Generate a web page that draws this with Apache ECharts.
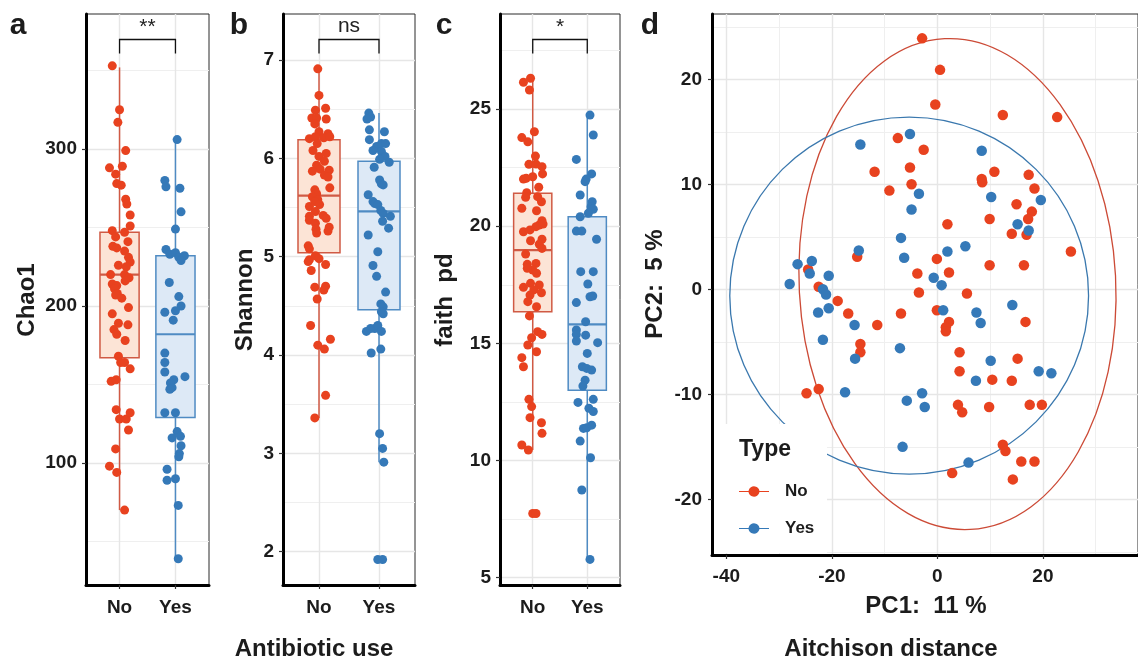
<!DOCTYPE html>
<html>
<head>
<meta charset="utf-8">
<script src="https://cdn.jsdelivr.net/npm/echarts@6/dist/echarts.min.js"></script>
<style>
  html, body { margin: 0; padding: 0; background: #ffffff; }
  #chart { width: 1138px; height: 660px; }
</style>
</head>
<body>
<div id="chart"></div>
<script>
// ---------- data ----------
const groups = ['No', 'Yes'];

// Chao1 richness per subject, with horizontal jitter (category units)
const chao1No = [353, 325, 317, 299, 288, 289, 284, 278, 277, 268, 265, 258, 251, 248, 244, 247, 241, 238, 237, 235, 231, 228, 226, 225, 220, 220, 218, 216, 214, 213, 211, 208, 207, 205, 199, 195, 189, 188, 185, 182, 178, 168, 164, 164, 160, 152, 153, 134, 128, 128, 132, 121, 109, 98, 94, 70];
const chao1NoJitter = [-0.13, 0, -0.03, 0.11, -0.18, 0.05, -0.07, -0.05, 0.03, 0.11, 0.13, 0.19, 0.19, -0.13, -0.07, 0.09, 0.15, -0.12, -0.05, 0.09, 0.16, 0.19, -0.02, 0.12, -0.16, 0.09, 0.17, 0.10, -0.13, -0.05, -0.09, -0.04, -0.07, 0.04, 0.16, -0.13, -0.02, 0.15, -0.10, -0.05, 0.10, -0.02, 0.02, 0.09, 0.19, -0.15, -0.06, -0.06, 0, 0.12, 0.19, 0.16, -0.07, -0.18, -0.05, 0.09];
const chao1Yes = [306, 280, 276, 275, 260, 249, 236, 233, 234, 231, 232, 229, 215, 206, 200, 197, 196, 191, 170, 164, 158, 155, 153, 151, 148, 147, 132, 132, 120, 116, 117, 111, 106, 104, 96, 89, 90, 73, 39];
const chao1YesJitter = [0.03, -0.19, -0.17, 0.08, 0.10, 0, -0.17, -0.10, 0, 0.06, 0.16, 0.10, -0.11, 0.06, 0.10, 0, -0.19, -0.04, -0.19, -0.19, -0.19, 0.17, -0.03, -0.09, -0.06, -0.10, -0.19, 0, 0.03, -0.06, 0.09, 0.10, 0.07, 0.06, -0.15, -0.15, 0, 0.05, 0.05];

// Shannon diversity
const shannonNo = [6.91, 6.64, 6.49, 6.51, 6.41, 6.41, 6.40, 6.35, 6.27, 6.25, 6.20, 6.22, 6.21, 6.22, 6.15, 6.08, 6.02, 6.05, 5.97, 5.93, 5.89, 5.87, 5.88, 5.83, 5.81, 5.70, 5.68, 5.64, 5.61, 5.58, 5.56, 5.51, 5.53, 5.46, 5.41, 5.42, 5.39, 5.37, 5.34, 5.30, 5.28, 5.26, 5.24, 5.11, 5.08, 5.01, 4.97, 4.98, 4.95, 4.92, 4.86, 4.69, 4.70, 4.66, 4.57, 4.30, 4.10, 4.06, 4.16, 3.59, 3.36];
const shannonNoJitter = [-0.02, 0, -0.06, 0.11, -0.12, -0.04, 0.12, -0.07, 0, 0.15, -0.16, -0.06, 0.08, 0.18, -0.03, -0.10, 0, 0.12, 0.09, -0.04, 0.02, -0.11, 0.17, 0.09, 0.15, 0.18, -0.07, -0.04, -0.11, -0.02, -0.07, -0.16, 0.01, -0.06, -0.16, 0.07, 0.12, -0.16, -0.06, 0.17, -0.05, 0.15, -0.04, -0.18, -0.16, -0.06, -0.16, 0, -0.18, 0.11, -0.13, -0.07, 0.11, 0.08, -0.03, -0.14, -0.02, 0.09, 0.19, 0.11, -0.07];
const shannonYes = [6.46, 6.42, 6.40, 6.29, 6.27, 6.19, 6.12, 6.15, 6.15, 6.08, 6.07, 6.02, 5.99, 5.96, 5.91, 5.78, 5.74, 5.73, 5.63, 5.56, 5.54, 5.53, 5.47, 5.44, 5.41, 5.36, 5.29, 5.22, 5.05, 4.91, 4.80, 4.64, 4.52, 4.49, 4.44, 4.42, 4.27, 4.24, 4.27, 4.30, 4.24, 4.02, 4.06, 3.20, 3.05, 2.91, 1.92, 1.92];
const shannonYesJitter = [-0.17, -0.14, -0.20, -0.16, 0.09, -0.16, -0.04, 0.04, 0.11, -0.10, 0.04, 0.10, 0.01, 0.17, -0.08, 0.01, 0.04, 0.07, -0.18, -0.10, -0.07, -0.02, 0.03, 0.07, 0.19, 0.06, 0.16, -0.18, -0.02, -0.10, -0.04, 0.11, 0.03, 0.07, 0.04, 0.07, -0.07, -0.21, -0.14, -0.02, 0.04, -0.13, 0.03, 0.01, 0.06, 0.08, -0.02, 0.06];

// Faith's phylogenetic diversity
const faithNo = [26.14, 26.31, 25.81, 24.03, 23.78, 23.60, 22.99, 22.64, 22.65, 22.54, 22.23, 22.01, 22.04, 22.11, 21.66, 21.43, 21.23, 21.26, 21.04, 20.76, 20.66, 20.23, 20.05, 19.98, 20.09, 19.76, 19.84, 19.44, 19.38, 19.23, 19.05, 18.81, 18.37, 18.41, 18.13, 18.20, 17.99, 17.39, 17.56, 17.49, 17.28, 17.16, 17.06, 16.78, 16.17, 16.56, 15.50, 15.38, 15.24, 14.93, 14.64, 14.39, 14.00, 12.61, 12.30, 11.83, 11.61, 11.16, 10.66, 10.45, 7.74, 7.74];
const faithNoJitter = [-0.17, -0.04, -0.06, 0.03, -0.20, -0.09, 0.05, -0.07, 0.06, 0.17, 0.18, -0.17, -0.12, 0, 0.11, -0.11, -0.13, 0.09, 0.16, -0.20, 0.07, 0.17, 0.12, 0.06, 0.19, -0.17, -0.05, 0.17, -0.04, 0.12, 0.17, -0.13, -0.10, 0.06, 0, -0.10, 0.07, -0.17, -0.04, 0.12, 0.02, 0.16, -0.05, -0.09, -0.06, 0.07, 0.09, 0.17, -0.02, -0.09, 0.07, -0.20, -0.17, -0.07, -0.02, -0.05, 0.16, 0.17, -0.20, -0.08, 0, 0.06];
const faithYes = [24.74, 23.89, 22.85, 22.23, 22.01, 21.90, 21.33, 21.04, 20.83, 20.72, 20.55, 20.40, 19.79, 19.79, 19.44, 18.06, 18.06, 17.53, 17.02, 16.99, 16.74, 15.92, 15.57, 15.38, 15.35, 15.10, 15.03, 14.57, 14.00, 13.93, 13.86, 13.43, 13.18, 12.48, 12.61, 12.23, 12.09, 11.37, 11.40, 11.51, 10.83, 10.12, 8.74, 5.78];
const faithYesJitter = [0.05, 0.11, -0.20, 0.08, -0.02, -0.04, -0.13, 0.09, 0.07, 0.11, 0.02, -0.13, -0.20, -0.10, 0.17, -0.12, 0.11, 0.01, 0.10, 0.05, -0.20, -0.03, -0.20, -0.20, -0.03, -0.20, 0.19, 0, -0.09, -0.01, 0.08, -0.04, -0.08, -0.17, 0.11, 0.03, 0.11, -0.07, -0.01, 0.08, -0.13, 0.06, -0.10, 0.05];

// Box summaries: [group position, lower whisker, Q1, median, Q3, upper whisker]
const chao1Box = [[1, 70, 167, 220, 247, 352], [2, 39, 129, 182, 232, 306]];
const shannonBox = [[1, 3.36, 5.04, 5.62, 6.19, 6.91], [2, 2.91, 4.46, 5.46, 5.97, 6.46]];
const faithBox = [[1, 10.45, 16.35, 18.98, 21.40, 26.38], [2, 5.78, 13.00, 15.81, 20.40, 24.74]];

// Wilcoxon test labels
const significance = ['**', 'ns', '*'];

// PCA on Aitchison distance: [PC1, PC2]
const pcaNo = [[-2.9, 23.9], [0.5, 20.9], [-0.4, 17.6], [12.4, 16.6], [22.7, 16.4], [-7.5, 14.4], [-2.6, 13.3], [-5.2, 11.6], [-11.9, 11.2], [10.8, 11.2], [17.3, 10.9], [8.4, 10.5], [8.5, 10.2], [-4.9, 10.0], [-9.1, 9.4], [18.4, 9.6], [15.0, 8.1], [17.9, 7.4], [17.2, 6.7], [9.9, 6.7], [1.9, 6.2], [14.1, 5.3], [16.9, 5.2], [25.3, 3.6], [-0.1, 2.9], [9.9, 2.3], [16.4, 2.3], [-3.8, 1.5], [2.2, 1.6], [-3.5, -0.3], [5.6, -0.4], [-6.9, -2.3], [-0.1, -2.0], [2.2, -3.1], [16.7, -3.1], [1.6, -3.6], [1.6, -4.0], [-15.2, 3.1], [-24.5, 1.9], [-22.5, 0.25], [-18.9, -1.1], [-16.9, -2.3], [-11.4, -3.4], [-14.6, -5.2], [-14.6, -6.0], [-24.8, -9.9], [-22.5, -9.5], [4.2, -6.0], [15.2, -6.6], [4.2, -7.8], [10.4, -8.6], [14.1, -8.7], [3.9, -11.0], [4.7, -11.7], [9.8, -11.2], [17.5, -11.0], [19.8, -11.0], [12.4, -14.8], [12.9, -15.4], [15.9, -16.4], [18.4, -16.4], [2.8, -17.5], [14.3, -18.1]];
const pcaYes = [[-14.6, 13.8], [-14.9, 3.7], [-26.5, 2.4], [-23.8, 2.7], [-24.2, 1.5], [-20.6, 1.3], [-28.0, 0.5], [-21.7, 0], [-21.1, -0.5], [-20.6, -1.8], [-22.6, -2.2], [-15.7, -3.4], [-21.7, -4.8], [-15.6, -6.6], [-17.5, -9.8], [-5.2, 14.8], [8.4, 13.2], [-3.5, 9.1], [10.2, 8.8], [19.6, 8.5], [-4.9, 7.6], [15.2, 6.2], [17.3, 5.6], [-6.9, 4.9], [5.3, 4.1], [1.9, 3.6], [-6.3, 3.0], [-0.7, 1.1], [0.8, 0.4], [14.2, -1.5], [1.1, -2.0], [7.4, -2.2], [8.2, -3.2], [-7.1, -5.6], [10.1, -6.8], [19.2, -7.8], [21.6, -8.0], [7.3, -8.7], [-2.9, -9.9], [-5.8, -10.6], [-2.4, -11.2], [-6.6, -15.0], [5.9, -16.5]];

// 95% confidence ellipses: [centre PC1, centre PC2, half-width, half-height, tilt in degrees]
const ellipseNo = [3.8, 0.5, 30.0, 23.4, 3];
const ellipseYes = [-5.35, -0.6, 34.0, 17.0, 0];

// Axis ticks and grid lines
const chao1Ticks = [100, 200, 300];
const chao1Minor = [50, 150, 250, 350];
const shannonTicks = [2, 3, 4, 5, 6, 7];
const shannonMinor = [2.5, 3.5, 4.5, 5.5, 6.5];
const faithTicks = [5, 10, 15, 20, 25];
const faithMinor = [7.5, 12.5, 17.5, 22.5, 27.5];
const pc1Ticks = [-40, -20, 0, 20];
const pc1Minor = [-30, -10, 10, 30];
const pc2Ticks = [-20, -10, 0, 10, 20];
const pc2Minor = [-25, -15, -5, 5, 15, 25];
const groupTicks = [1, 2];

// ---------- styling ----------
const FONT = "'Liberation Sans', Arial, Helvetica, sans-serif";
const TEXT = '#1c1c1c';
const RED = '#E8421F';
const BLUE = '#3579B8';
const boxStyle = [
  { fill: '#FCE4D6', line: '#D05A44' },
  { fill: '#DDE9F6', line: '#4F8BC3' }
];
const BOX_WIDTH = 0.7;

const panels = [
  { left: 86, top: 14, width: 123, height: 571, ymin: 22.3, ymax: 386 },
  { left: 283, top: 14, width: 132, height: 571, ymin: 1.661, ymax: 7.468 },
  { left: 500, top: 14, width: 120, height: 571, ymin: 4.688, ymax: 29.054 },
  { left: 712, top: 14, width: 436, height: 541, xmin: -42.72, xmax: 38.02, ymin: -25.3, ymax: 26.22 }
];

function valueAxis(gi, min, max, ticks, fmt, labelMargin) {
  return {
    type: 'value', gridIndex: gi, min: min, max: max, z: 10,
    splitLine: { show: false },
    axisLine: { show: true, onZero: false, lineStyle: { color: '#000', width: 3 } },
    axisTick: { show: true, customValues: ticks, length: 4, lineStyle: { color: '#333', width: 1.2 } },
    axisLabel: {
      customValues: ticks, formatter: fmt, margin: labelMargin,
      fontSize: 19, fontWeight: 'bold', fontFamily: FONT, color: TEXT
    }
  };
}

const groupFmt = v => (v === 1 ? groups[0] : v === 2 ? groups[1] : '');
const numFmt = v => String(v);

const MAJOR = { color: '#E6E6E6', width: 1.4, type: 'solid' };
const MINOR = { color: '#EFEFEF', width: 1, type: 'solid' };

// background grid lines, kept beneath every data layer
function gridLines(gi, xMajor, xMinor, yMajor, yMinor) {
  const d = [];
  xMinor.forEach(v => d.push({ xAxis: v, lineStyle: MINOR }));
  yMinor.forEach(v => d.push({ yAxis: v, lineStyle: MINOR }));
  xMajor.forEach(v => d.push({ xAxis: v, lineStyle: MAJOR }));
  yMajor.forEach(v => d.push({ yAxis: v, lineStyle: MAJOR }));
  return {
    type: 'scatter', xAxisIndex: gi, yAxisIndex: gi, data: [], z: 1, silent: true,
    markLine: {
      z: 1, silent: true, symbol: ['none', 'none'], label: { show: false },
      animation: false, emphasis: { disabled: true }, data: d
    }
  };
}

function renderBox(params, api) {
  const x = api.value(0);
  const lo = api.coord([x, api.value(1)]);
  const q1 = api.coord([x, api.value(2)]);
  const md = api.coord([x, api.value(3)]);
  const q3 = api.coord([x, api.value(4)]);
  const hi = api.coord([x, api.value(5)]);
  const half = api.size([BOX_WIDTH, 0])[0] / 2;
  const s = boxStyle[x - 1];
  return {
    type: 'group',
    children: [
      { type: 'line', shape: { x1: lo[0], y1: lo[1], x2: q1[0], y2: q1[1] }, style: { stroke: s.line, lineWidth: 1.5 } },
      { type: 'line', shape: { x1: q3[0], y1: q3[1], x2: hi[0], y2: hi[1] }, style: { stroke: s.line, lineWidth: 1.5 } },
      { type: 'rect', shape: { x: q3[0] - half, y: q3[1], width: 2 * half, height: q1[1] - q3[1] }, style: { fill: s.fill, stroke: s.line, lineWidth: 1.5 } },
      { type: 'line', shape: { x1: md[0] - half, y1: md[1], x2: md[0] + half, y2: md[1] }, style: { stroke: s.line, lineWidth: 2.2 } }
    ]
  };
}

function boxSeries(gi, stats) {
  return {
    type: 'custom', xAxisIndex: gi, yAxisIndex: gi, z: 6, silent: true,
    encode: { x: 0, y: [1, 2, 3, 4, 5] },
    renderItem: renderBox, data: stats
  };
}

function jitterSeries(gi, name, values, jitter, pos, color) {
  return {
    type: 'scatter', name: name, xAxisIndex: gi, yAxisIndex: gi, z: 7, silent: true,
    symbol: 'circle', symbolSize: 9,
    itemStyle: { color: color, opacity: 1 },
    data: values.map((v, i) => [pos + jitter[i], v])
  };
}

function bracketSeries(gi, label) {
  return {
    type: 'custom', xAxisIndex: gi, yAxisIndex: gi, z: 7, silent: true,
    encode: { x: 0, y: 1 },
    data: [[1, 2]],
    renderItem: function (params, api) {
      const y0 = params.coordSys.y;
      const x1 = api.coord([api.value(0), 0])[0];
      const x2 = api.coord([api.value(1), 0])[0];
      return {
        type: 'group',
        children: [
          { type: 'polyline', shape: { points: [[x1, y0 + 39.5], [x1, y0 + 25.5], [x2, y0 + 25.5], [x2, y0 + 39.5]] },
            style: { stroke: '#111', lineWidth: 1.3, fill: 'none' } },
          { type: 'text', x: (x1 + x2) / 2, y: y0 + (label === 'ns' ? 12 : 13),
            style: { text: label, align: 'center', verticalAlign: 'middle', fontSize: 21, fontFamily: FONT, fill: '#222' } }
        ]
      };
    }
  };
}

function ellipseSeries(name, params, color) {
  return {
    type: 'custom', name: name, xAxisIndex: 3, yAxisIndex: 3, z: 6, silent: true,
    encode: { x: 0, y: 1 },
    data: [params],
    renderItem: function (p, api) {
      const c = api.coord([api.value(0), api.value(1)]);
      const s = api.size([api.value(2), api.value(3)]);
      return {
        type: 'ellipse', x: c[0], y: c[1], rotation: api.value(4) * Math.PI / 180,
        shape: { cx: 0, cy: 0, rx: s[0], ry: s[1] },
        style: { fill: 'none', stroke: color, lineWidth: 1.3 }
      };
    }
  };
}

// legend key: a short line with a dot in the middle
const KEY_ICON = 'path://M0,5.4H9.5A5.6,5.6,0,0,1,20.5,5.4H30V6.6H20.5A5.6,5.6,0,0,1,9.5,6.6H0Z';

function label(text, x, y, size, opts) {
  return Object.assign({
    type: 'text', x: x, y: y, z: 20, silent: true,
    style: { text: text, fontSize: size, fontWeight: 'bold', fontFamily: FONT, fill: TEXT, align: 'center', verticalAlign: 'middle' }
  }, opts || {});
}

const option = {
  backgroundColor: '#ffffff',
  animation: false,
  grid: panels.map(p => ({
    left: p.left, top: p.top, width: p.width, height: p.height,
    show: true, borderColor: '#2a2a2a', borderWidth: 1, backgroundColor: 'transparent'
  })),
  xAxis: [
    valueAxis(0, 0.4, 2.6, groupTicks, groupFmt, 13),
    valueAxis(1, 0.4, 2.6, groupTicks, groupFmt, 13),
    valueAxis(2, 0.4, 2.6, groupTicks, groupFmt, 13),
    valueAxis(3, panels[3].xmin, panels[3].xmax, pc1Ticks, numFmt, 12)
  ],
  yAxis: [
    valueAxis(0, panels[0].ymin, panels[0].ymax, chao1Ticks, numFmt, 9),
    valueAxis(1, panels[1].ymin, panels[1].ymax, shannonTicks, numFmt, 9),
    valueAxis(2, panels[2].ymin, panels[2].ymax, faithTicks, numFmt, 9),
    valueAxis(3, panels[3].ymin, panels[3].ymax, pc2Ticks, numFmt, 10)
  ],
  legend: {
    data: [{ name: groups[0], icon: KEY_ICON }, { name: groups[1], icon: KEY_ICON }],
    orient: 'vertical', left: 739, top: 483, padding: 0,
    itemWidth: 30, itemHeight: 12, itemGap: 20, z: 20, selectedMode: false,
    textStyle: { fontSize: 17, fontWeight: 'bold', fontFamily: FONT, color: TEXT, padding: [0, 0, 0, 11] }
  },
  graphic: [
    // legend panel background
    { type: 'rect', shape: { x: 714, y: 424, width: 113, height: 129 }, style: { fill: '#ffffff' }, z: 8, silent: true },
    label('Type', 739, 450, 23, { style: { text: 'Type', fontSize: 23, fontWeight: 'bold', fontFamily: FONT, fill: TEXT, align: 'left', verticalAlign: 'middle' } }),
    // panel tags
    label('a', 18, 26, 30),
    label('b', 239, 26, 30),
    label('c', 444, 26, 30),
    label('d', 650, 26, 30),
    // axis titles
    label('Chao1', 27, 300, 24, { rotation: Math.PI / 2 }),
    label('Shannon', 245, 300, 24, { rotation: Math.PI / 2 }),
    label('faith  pd', 445, 300, 24, { rotation: Math.PI / 2 }),
    label('PC2:  5 %', 655, 284, 24, { rotation: Math.PI / 2 }),
    label('Antibiotic use', 314, 649, 24),
    label('PC1:  11 %', 926, 606, 24),
    label('Aitchison distance', 891, 649, 24)
  ],
  series: [
    gridLines(0, groupTicks, [], chao1Ticks, chao1Minor),
    gridLines(1, groupTicks, [], shannonTicks, shannonMinor),
    gridLines(2, groupTicks, [], faithTicks, faithMinor),
    gridLines(3, pc1Ticks, pc1Minor, pc2Ticks, pc2Minor),

    boxSeries(0, chao1Box),
    boxSeries(1, shannonBox),
    boxSeries(2, faithBox),

    jitterSeries(0, 'Chao1 No', chao1No, chao1NoJitter, 1, RED),
    jitterSeries(0, 'Chao1 Yes', chao1Yes, chao1YesJitter, 2, BLUE),
    jitterSeries(1, 'Shannon No', shannonNo, shannonNoJitter, 1, RED),
    jitterSeries(1, 'Shannon Yes', shannonYes, shannonYesJitter, 2, BLUE),
    jitterSeries(2, 'Faith No', faithNo, faithNoJitter, 1, RED),
    jitterSeries(2, 'Faith Yes', faithYes, faithYesJitter, 2, BLUE),

    bracketSeries(0, significance[0]),
    bracketSeries(1, significance[1]),
    bracketSeries(2, significance[2]),

    ellipseSeries('No ellipse', ellipseNo, '#CC4A36'),
    ellipseSeries('Yes ellipse', ellipseYes, '#3A78AE'),

    {
      type: 'scatter', name: groups[0], xAxisIndex: 3, yAxisIndex: 3, z: 7, silent: true,
      symbol: 'circle', symbolSize: 10.5, itemStyle: { color: RED, opacity: 1 }, data: pcaNo
    },
    {
      type: 'scatter', name: groups[1], xAxisIndex: 3, yAxisIndex: 3, z: 7, silent: true,
      symbol: 'circle', symbolSize: 10.5, itemStyle: { color: BLUE, opacity: 1 }, data: pcaYes
    }
  ]
};

const chart = echarts.init(document.getElementById('chart'), null, { renderer: 'canvas' });
chart.setOption(option);
</script>
</body>
</html>
